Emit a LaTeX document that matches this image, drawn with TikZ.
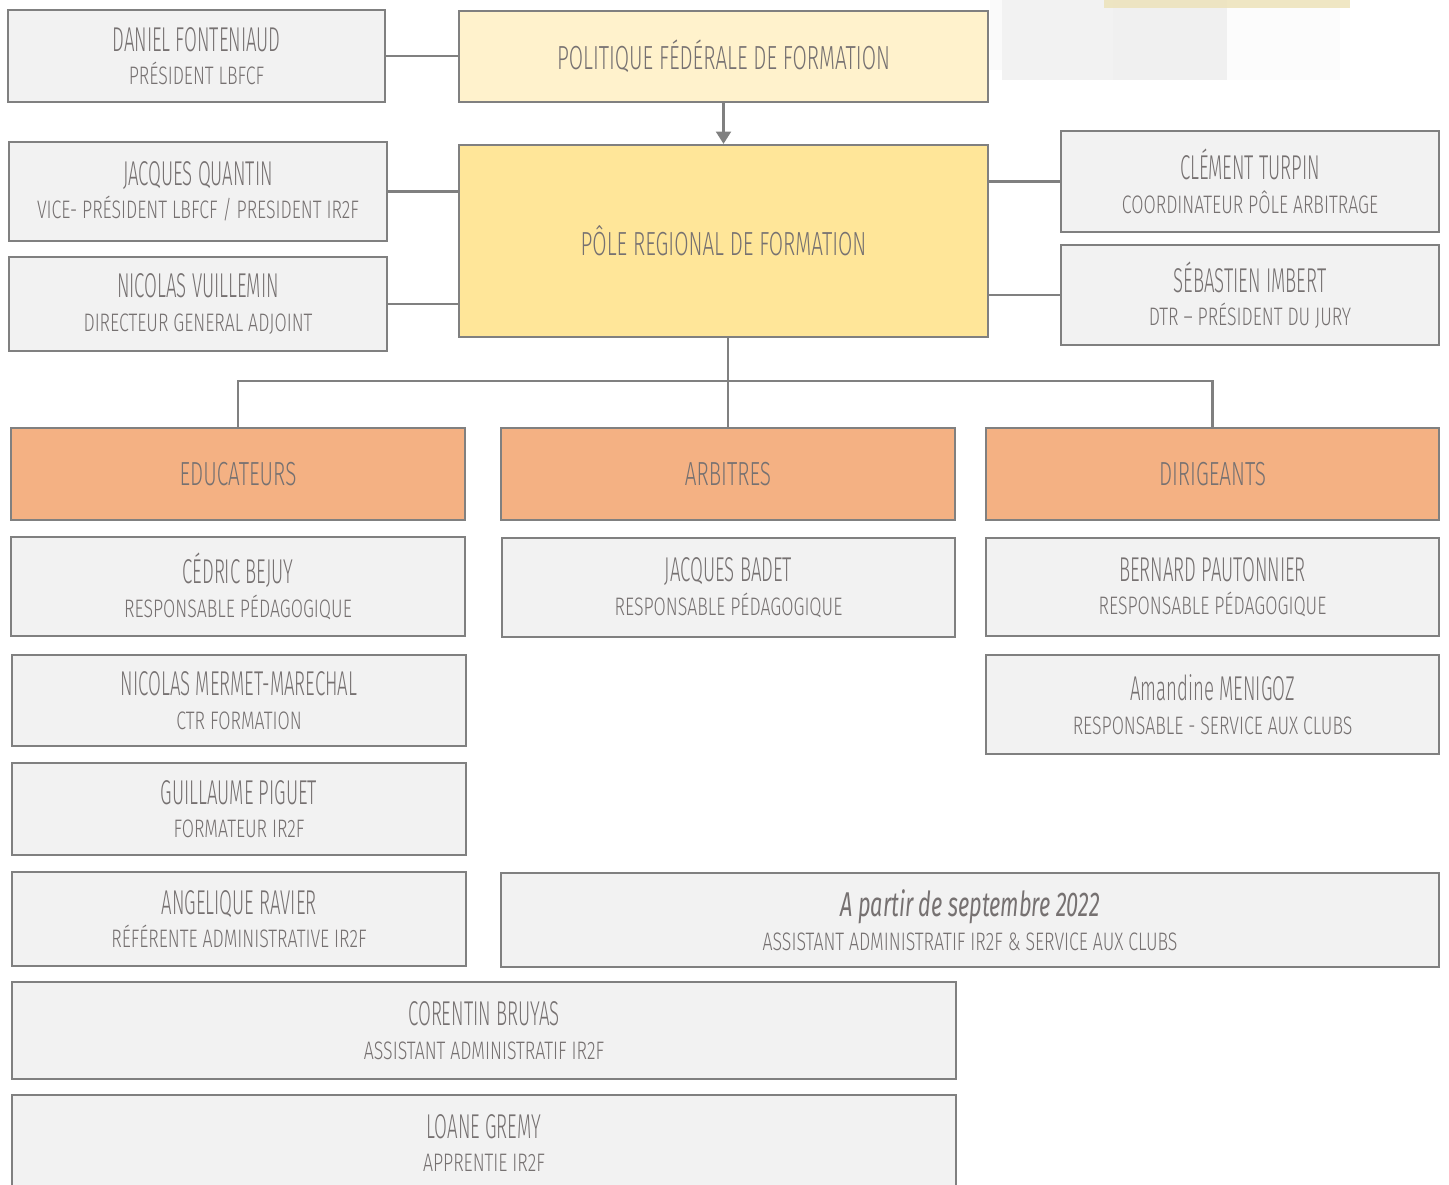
\documentclass[tikz,border=0pt]{standalone}
\usepackage{fontspec}
\setmainfont{Fira Sans}[UprightFont=* Light, FakeStretch=0.62]
\newfontfamily\namefont{Fira Sans}[UprightFont=* Light, FakeStretch=0.54]
\newfontfamily\rolefont{Fira Sans}[UprightFont=* Light, FakeStretch=0.70]
\newfontfamily\datefont{Fira Sans}[UprightFont=* Italic, FakeStretch=0.63]
\usetikzlibrary{arrows.meta}

\definecolor{boxgray}{HTML}{F2F2F2}
\definecolor{linegray}{HTML}{808080}
\definecolor{textgray}{HTML}{767171}
\definecolor{paleyellow}{HTML}{FFF2CC}
\definecolor{poleyellow}{HTML}{FFE699}
\definecolor{catorange}{HTML}{F4B183}
\definecolor{bandyellow}{HTML}{EDE3BA}

\newcommand{\person}[2]{{\namefont\fontsize{19.6}{19}\selectfont #1}\\{\rolefont\fontsize{14.4}{19}\selectfont #2}}

\tikzset{
  card/.style={draw=linegray, line width=1.3pt, fill=boxgray, text=textgray, align=center,
    inner sep=0pt, font=\fontsize{14.4}{19}\selectfont},
  dims/.style 2 args={minimum width=#1*0.02cm, minimum height=#2*0.02cm},
  title/.style={font=\fontsize{19}{19}\selectfont},
  link/.style={draw=linegray, line width=1.3pt}
}

\begin{document}
\begin{tikzpicture}[x=0.02cm, y=-0.02cm]
\useasboundingbox (0,0) rectangle (1449,1184);

% faded shapes top right
\fill[black!2] (990,0) rectangle (1100,70);
\fill[black!1] (1100,0) rectangle (1340,80);
\fill[black!5] (1002,0) rectangle (1227,80);
\fill[black!6] (1113,0) rectangle (1227,80);
\fill[bandyellow, opacity=0.85] (1104,0) rectangle (1350,8);

% top
\node[card, dims={377}{92}] (fonteniaud) at (196.5,56) {\person{DANIEL FONTENIAUD}{PRÉSIDENT LBFCF}};
\node[card, dims={529}{91}, fill=paleyellow, title] (politique) at (723.5,56.5) {POLITIQUE FÉDÉRALE DE FORMATION};
\node[card, dims={378}{99}] (quantin) at (198,191.5) {\person{JACQUES QUANTIN}{VICE- PRÉSIDENT LBFCF / PRESIDENT IR2F}};
\node[card, dims={378}{94}] (vuillemin) at (198,304) {\person{NICOLAS VUILLEMIN}{DIRECTEUR GENERAL ADJOINT}};
\node[card, dims={529}{192}, fill=poleyellow, title] (pole) at (723.5,241) {PÔLE REGIONAL DE FORMATION};
\node[card, dims={378}{101}] (turpin) at (1250,181.5) {\person{CLÉMENT TURPIN}{COORDINATEUR PÔLE ARBITRAGE}};
\node[card, dims={378}{100}] (imbert) at (1250,295) {\person{SÉBASTIEN IMBERT}{DTR – PRÉSIDENT DU JURY}};

% categories
\node[card, dims={454}{92}, fill=catorange, title] (educateurs) at (238,474) {EDUCATEURS};
\node[card, dims={454}{92}, fill=catorange, title] (arbitres) at (728,474) {ARBITRES};
\node[card, dims={453}{92}, fill=catorange, title] (dirigeants) at (1212.5,474) {DIRIGEANTS};

% people
\node[card, dims={454}{99}] (bejuy) at (238,586.5) {\person{CÉDRIC BEJUY}{RESPONSABLE PÉDAGOGIQUE}};
\node[card, dims={453}{99}] (badet) at (728.5,587.5) {\person{JACQUES BADET}{RESPONSABLE PÉDAGOGIQUE}};
\node[card, dims={453}{98}] (pautonnier) at (1212.5,587) {\person{BERNARD PAUTONNIER}{RESPONSABLE PÉDAGOGIQUE}};
\node[card, dims={454}{91}] (mermet) at (239,700.5) {\person{NICOLAS MERMET-MARECHAL}{CTR FORMATION}};
\node[card, dims={453}{99}] (menigoz) at (1212.5,704.5) {\person{Amandine MENIGOZ}{RESPONSABLE - SERVICE AUX CLUBS}};
\node[card, dims={454}{92}] (piguet) at (239,809) {\person{GUILLAUME PIGUET}{FORMATEUR IR2F}};
\node[card, dims={454}{94}] (ravier) at (239,919) {\person{ANGELIQUE RAVIER}{RÉFÉRENTE ADMINISTRATIVE IR2F}};
\node[card, dims={938}{94}] (septembre) at (970,920) {\person{\datefont A partir de septembre 2022}{ASSISTANT ADMINISTRATIF IR2F \& SERVICE AUX CLUBS}};
\node[card, dims={944}{97}] (bruyas) at (484,1030.5) {\person{CORENTIN BRUYAS}{ASSISTANT ADMINISTRATIF IR2F}};
\node[card, dims={944}{96}] (gremy) at (484,1143) {\person{LOANE GREMY}{APPRENTIE IR2F}};

% links
\draw[link] (fonteniaud.east) -- (fonteniaud.east -| politique.west);
\draw[link, -{Triangle[length=7pt, width=8.5pt]}] (politique.south) -- (pole.north);
\draw[link] (quantin.east) -- (quantin.east -| pole.west);
\draw[link] (vuillemin.east) -- (vuillemin.east -| pole.west);
\draw[link] (turpin.west) -- (turpin.west -| pole.east);
\draw[link] (imbert.west) -- (imbert.west -| pole.east);
\draw[link] (pole.south -| arbitres.north) -- (arbitres.north);
\draw[link] (educateurs.north) -- ++(0,-46) -| (dirigeants.north);
\end{tikzpicture}
\end{document}
